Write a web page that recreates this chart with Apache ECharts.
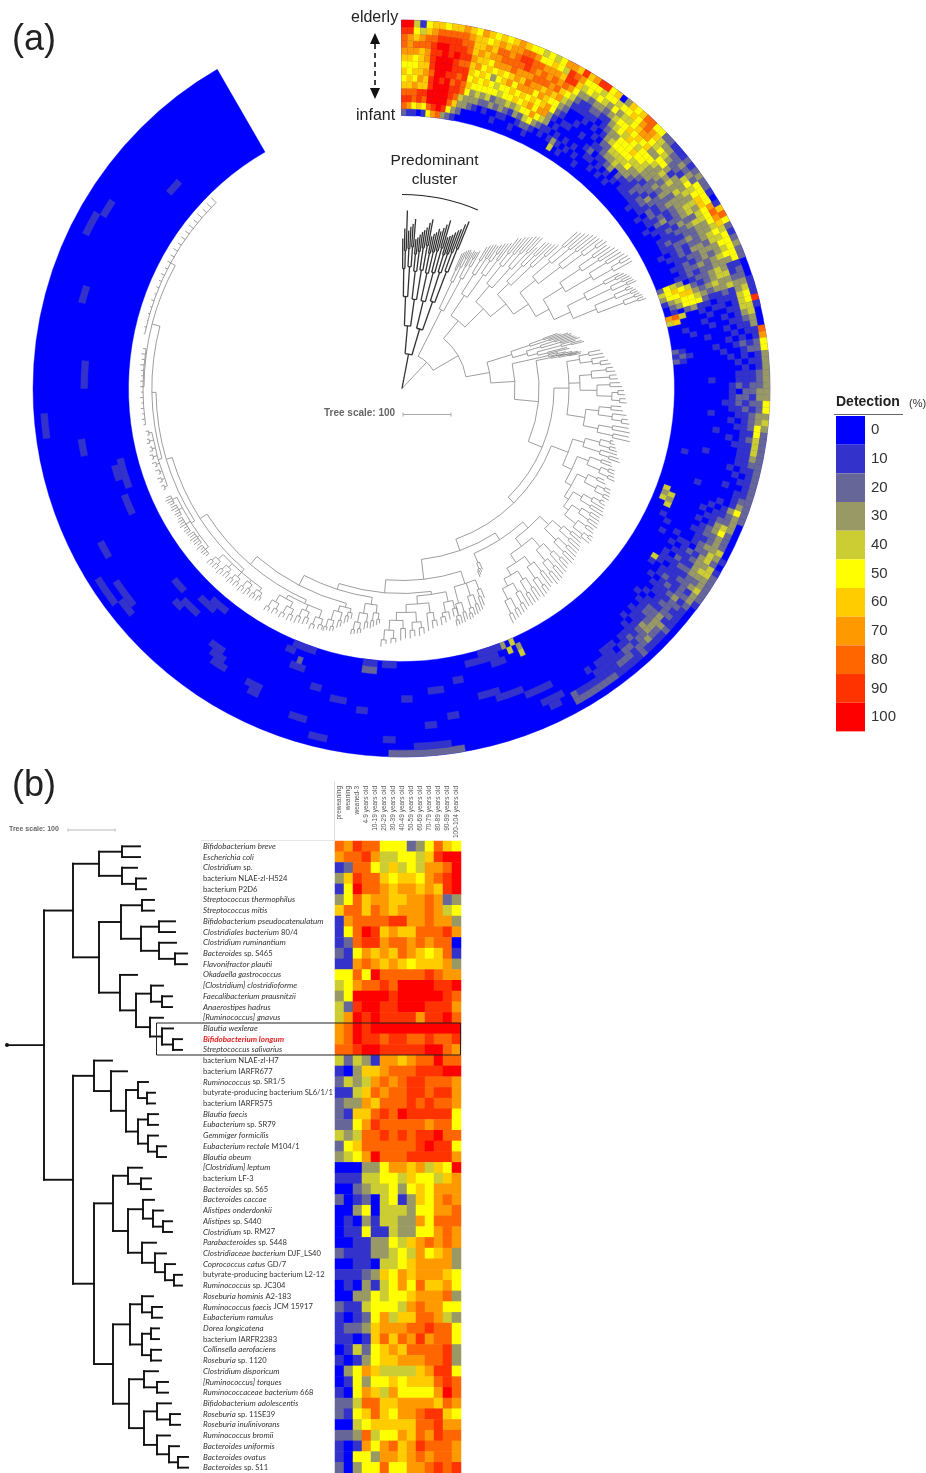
<!DOCTYPE html>
<html><head><meta charset="utf-8">
<style>html,body{margin:0;padding:0;background:#fff}#c{width:926px;height:1473px}</style>
<script src="https://cdn.jsdelivr.net/npm/echarts@6/dist/echarts.min.js"></script>
</head><body><div id="c"></div>
<script>
/* ---------- colour scale ---------- */
var legendValues = [0,10,20,30,40,50,60,70,80,90,100];
var legendColors = ['#0000FF','#3333CC','#666699','#999966','#CCCC33','#FFFF00','#FFCC00','#FF9900','#FF6600','#FF3300','#FF0000'];

/* ---------- panel (b): heatmap ---------- */
var ageGroups = ['preweaning','weaning','weaned-3','4-9 years old','10-19 years old','20-29 years old','30-39 years old','40-49 years old','50-59 years old','60-69 years old','70-79 years old','80-89 years old','90-99 years old','100-104 years old'];
/* "~" separates the italic part of a name from the upright part */
var speciesLabels = ['Bifidobacterium breve','Escherichia coli','Clostridium~sp.','~bacterium NLAE-zl-H524','~bacterium P2D6','Streptococcus thermophilus','Streptococcus mitis','Bifidobacterium pseudocatenulatum','Clostridiales bacterium~80/4','Clostridium ruminantium','Bacteroides~sp. S465','Flavonifractor plautii','Okadaella gastrococcus','[Clostridium] clostridioforme','Faecalibacterium prausnitzii','Anaerostipes hadrus','[Ruminococcus] gnavus','Blautia wexlerae','Bifidobacterium longum','Streptococcus salivarius','~bacterium NLAE-zl-H7','~bacterium IARFR677','Ruminococcus~sp. SR1/5','~butyrate-producing bacterium SL6/1/1','~bacterium IARFR575','Blautia faecis','Eubacterium~sp. SR79','Gemmiger formicilis','Eubacterium rectale~M104/1','Blautia obeum','[Clostridium] leptum','~bacterium LF-3','Bacteroides~sp. S65','Bacteroides caccae','Alistipes onderdonkii','Alistipes~sp. S440','Clostridium~sp. RM27','Parabacteroides~sp. S448','Clostridiaceae bacterium~DJF_LS40','Coprococcus catus~GD/7','~butyrate-producing bacterium L2-12','Ruminococcus~sp. JC304','Roseburia hominis~A2-183','Ruminococcus faecis~JCM 15917','Eubacterium ramulus','Dorea longicatena','~bacterium IARFR2383','Collinsella aerofaciens','Roseburia~sp. 1120','Clostridium disporicum','[Ruminococcus] torques','Ruminococcaceae bacterium~668','Bifidobacterium adolescentis','Roseburia~sp. 11SE39','Roseburia inulinivorans','Ruminococcus bromii','Bacteroides uniformis','Bacteroides ovatus','Bacteroides~sp. S11'];
/* one string per species, one character per age group: detection / 10 (a = 100) */
var heatRows = ['87988555235865','788974455469aa','1288546454778a','3698865665789a','15a8876776769a',
'35867766778723','68868767778745','17888899778773','158a9676688897','12899788787880',
'21576768765681','11787676566673','5585a888889877','4578898aaaa99a','35aaaa9aaaaa98','429aa99aaa9997','47a9a9999799a8','78a9aaaaaaaaaa','78a99899889889','889aa99999aa87',
'42431776788a88','103667888999aa','24347878998887','11468788998997','23376888989887','2166898a999995','22579888887885','43488989899a88','2568888889a995','3457a888999997',
'0003357767465a','11144554655467','00234453565777','20120451365787','00350444355778','01031443375888','01151143355787','00113354678787','21113345475673','00110445677773',
'11123657677765','01031457586675','00335455677783','21145554787755','10125746688743','12236777889885','11016868797885','01425676888893','10135667778893','03576444467995',
'01535565666898','105764755557a8','22488667777687','21568657789965','00456666688977','22384557687988','10175786798887','10553776787887','20355855778989'];

/* ---------- panel (a): circular heatmap ---------- */
/* one string per 1 degree clockwise from the top; first char = infant (inner), last = elderly (outer) */
var ringColumns = [
'2898656567889a','1798665567779a','15887565578654','06996766668741','15896676778865','58aa9989999876','79aaaaaaa9a986','8aaaa9aaaaa985','39aaaa9aa99986','258998999a9986',
'13689989899887','02348899898876','00335656676665','00233565767667','00134556566756','00023565657665','00124553577876','00032545678865','01023456578776','00133557688877',
'00124565778986','00013657679985','01034567878875','00125657787854','00245765788755','01257557687764','00135766778755','00024775687647','00113355768997','00010123457986',
'00101012345679','04310100123456','00100100113557','01010010112459','00100001123549','00010100123455','00100001012356','01001010113540','00012101234353','00010123345456',
'00101224355465','00011345546556','00102345565678','00013445556788','00100345645775','00012354556565','00001334553442','00011234453532','00011123345431','00012213335321',
'00011222343221','00112123231232','00012312343121','00011223333432','00102122243523','00012123334452','00011212333552','00102312344651','00011122343650','00001213224571',
'00011122344586','00012112233578','00011223233465','00101212234542','00011213324451','00001122333552','00011212323453','00001223234552','00011212233352','25430122343110',
'45654212344120','35566323433220','13455432334331','02355521121341','01023110111451','78400101101459','46000010011441','00000100101340','00100010011230','00010000101130',
'00000100010118','00000000101017','21000010012125','12100001001225','21000000101013','00000000010113','00000000001013','00000000011123','00000100011123','00000000121223',
'00000000102233','00000000122133','00000001121225','00000000112125','00000100011233','00000000101234','00000000011253','00000010001152','00000000101242','00000000011142',
'00000000001142','00000100001132','00100000001122','00000000010112','00000000001012','00000000000112','00000000010012','00000100000112','00000000000122','00000000010132',
'04000000101352','03400001011232','04300000112230','00400001013430','00000000123520','00100001122320','00010000112320','00000100123340','00010011022431','00000101213420',
'00000011123341','00000102113442','00000111223332','00004101112232','00001011122342','00000012112132','00000101212231','00000011123120','00000001112210','00000010122110',
'00000101112210','00000011223110','00000001223320','00000011123210','00000001133210','00000010122310','00000001112210','00000000121220','00000000112110','00000000012210',
'00000000101210','00000000111210','00000000111110','00000000011120','00000000011120','00000000001120','00000000010120','00000000000120','00000000000120','00000000000120','00000000000220'];
/* remaining arc is blue; paler patches as [row, fromDeg, toDeg, detection/10] */
var ringPatches = [[0,156,157,4],[1,157,158,4],[0,158,159,3],[1,155,156,3],[2,155,156,4],[1,160,167,1],[0,159,164,1],[2,159,162,1],
[13,170,182,2],[12,172,178,1],[6,162,166,1],[7,158,163,1],[8,153,158,1],[10,152,156,1],[11,153,155,1],[0,185,188,1],[1,185,188,2],[0,181,184,1],
[3,199,202,1],[2,200,201,2],[1,202,204,1],[0,198,203,1],[6,190,193,1],[5,195,197,1],[8,205,208,1],[6,214,217,1],[7,213,216,1],[8,212,215,1],
[4,222,226,1],[5,225,227,1],[1,218,222,1],[2,220,224,1],[3,227,230,1],[11,230,233,1],[10,231,236,1],[12,233,238,1],[3,245,249,1],[2,250,256,1],
[3,252,255,1],[9,240,243,1],[12,262,266,1],[6,270,275,1],[8,285,288,1],[10,300,303,1],[4,310,313,1],[11,296,300,1],[7,258,261,1],[4,172,175,1],
[9,174,176,1],[5,178,180,1],[11,181,183,1],[3,168,170,1],[8,170,172,1],[7,186,188,1],[10,196,199,1],[12,192,195,1],[9,205,207,1]];

/* ---------- trees: [nodePosition, child, child...]; a plain number is a leaf tip;
   "@from:step" places the following leaves at that angle, that spacing ---------- */
var treeDark = [35,"@0.3:0.72",
 [63,
  [92,[120,150,[138,160,178]],[122,[140,158,162],[142,165,170]]],
  [90,[118,[135,150,152],[138,155,158]],[120,[142,160,163],[145,168,172]]]],
 [62,
  [90,[118,[138,155,158],[140,160,164]],[120,[142,162,166],[146,170,175]]],
  [92,[122,[140,158,160],[142,162,165]],[125,[145,168,170],[150,176,180]]]]];
var cladeG1 = [88,"@24:0.62",[118,[130,148,150],[135,152,[145,154,155]]],[125,[138,153,156],[140,[148,155,156],158]]];
var cladeT = [88,"@31:0.75",
 [112,[135,[150,165,168],[155,170,172]],[140,[155,172,[165,175,178]],[160,180,182]]],
 [114,
  [135,[158,[172,190,192],[175,195,197]],[162,[180,200,203],[185,205,206]]],
  [134,
   [150,[172,195,[188,205,207]],[178,208,[195,210,212]]],
   [152,
    [172,[195,[215,235,237],[218,240,242]],[200,[222,245,247],[225,248,[240,250,252]]]],
    [167,
     [190,[215,[232,250,252],[235,255,257]],[220,[240,258,260],[242,[252,262,263],263]]],
     [185,"@62:0.55",
      [205,[228,246,[240,250,252]],[232,[245,254,255],[248,256,258]]],
      [210,[232,[245,250,252],[248,254,255]],[238,[250,256,258],[252,258,260]]]]]]]]];
var cladeX = [115,"@70.5:0.5",[135,[150,165,168],[155,175,178]],[130,[145,[160,178,180],[165,182,185]],[140,[165,180,[175,186,188]],[150,170,172]]]];
var chainA = [140,"@77:0.35",[150,160,[158,168,[165,174,[172,180,183]]]]];
var cladeK84 = [167,"@79:1.05",
 [180,[190,202,204],[192,205,[200,208,210]]],
 [178,[190,[205,212,214],[208,215,216]],[195,[208,218,220],[210,[216,222,223],[218,224,225]]]],
 [185,[198,[210,220,222],[212,226,[222,228,230]]],[200,[214,230,232],[216,232,234]]]];
var cladeK120 = [178,"@104:0.8",
 [190,[205,[215,218,220],[216,222,224]],[208,225,[218,228,230]]],
 [188,
  [200,[212,222,224],[214,[222,228,229],[224,230,232]]],
  [195,
   [205,[215,222,225],[218,[226,232,233],[228,234,235]]],
   [200,
    [210,[220,[228,232,234],235],[222,236,238]],
    [206,[216,[226,236,238],[228,238,240]],[220,[230,238,240],[232,[238,242,243],243]]]]]]];
var cladeK150 = [188,"@130:0.82",
 [200,[212,[222,234,236],[225,238,240]],[216,[228,240,242],[230,243,244]]],
 [198,
  [210,[222,[232,242,244],246],[224,[234,246,248],[236,248,250]]],
  [208,
   [218,[230,246,248],[232,[242,250,251],252]],
   [216,
    [226,[238,250,252],[240,252,253]],
    [224,[234,252,[246,254,255]],[236,[248,256,257],[250,258,260]]]]]]];
var cladeK158 = [190,"@156:0.5",198,[196,200,[198,202,204]]];
var cladeK164 = [205,"@158.5:0.7",[215,225,[222,232,235]],[218,[228,236,238],[230,238,[235,240,241]]],[222,[232,240,242],[234,242,[238,243,244]]]];
var cladeK178 = [208,"@166:1.1",
 [218,[226,232,234],[228,236,[232,238,240]]],
 [216,[226,[234,240,242],244],
  [224,[234,[240,246,248],[242,248,250]],
   [232,[240,250,252],[242,[250,254,255],[252,256,259]]]]]];
var cladeK190 = [218,"@185.5:0.7",[226,[232,236,238],[234,240,242]],[228,[236,242,244],[238,[244,248,249],[246,250,251]]]];
var cladeK199 = [226,"@192.5:0.7",[230,236,[234,240,242]],[232,[240,246,248],[242,[248,252,253],[250,253,255]]]];
var cladeK212 = [236,"@198.5:0.9",[244,[250,254,255],[252,256,258]],[242,[248,254,256],[250,256,258]],[240,[246,[252,258,259],[254,258,260]],[248,[254,258,260],[256,260,261]]]];
var cladeK226 = [244,"@214:0.75",[248,[252,256,258],[253,258,259]],[247,[252,258,260],[254,259,261]],[250,[254,258,260],[255,260,261]],[249,[253,259,260],[255,260,262]],[251,[255,260,261],[256,261,262]]];
var cladeK240 = [250,"@229.5:0.6",[254,258,259,260,258,261],[253,258,260,259,261,259,260],[255,260,261,259,262,260,261,259],[254,259,260,258,261,260],[255,260,261,262,260]];
var cladeK300 = [250,"@247:0.9",
 [254,[257,259,260],[257,260,261],[256,258,260],[257,259,261],[258,260,261],[257,260,259],[258,261,260],[257,259,260]],
 [258,"@262:1.2",
  [259,261,262,261,262,261,262,261,262,262,261,262,263,262,263,262],
  [263,"@282:1.5",264,265,264,265,265,266,265,266,266,267,266,267,267,268,267,268,268,269,268,269,268,269,270]]];
var treeGray = [36, cladeG1,
 [65, cladeT,
  [89, cladeX,
   [113, chainA,
    [137,
     [140,"@78:0.3",[152,165,[160,172,[170,178,182]]]],
     [152, cladeK84,
      [160, cladeK120,
       [172, [180, cladeK150, cladeK158],
        [192, cladeK164,
         [205, cladeK178,
          [211, cladeK190,
           [222, cladeK199,
            [232, cladeK212,
             [240, cladeK226,
              [246, cladeK240, cladeK300]]]]]]]]]]]]]]];
var treeB = [44,
 [73,
  [99,[122,140,140],[122,137,[136,146,146]]],
  [99,
   [121,[142,154,154],[141,[159,175,175],[159,176,[175,187,187]]]],
   [120,137,[136,[151,163,[162,172,172]],[150,163,[162,173,[173,182,182]]]]]]],
 [73,
  [94,112,[111,127,[126,[138,148,[147,155,155]],[138,[148,158,158],[148,158,[157,166,166]]]]]],
  [94,
   [113,
    [128,142,[141,151,151]],
    [128,[143,154,[153,163,[163,172,172]]],[142,156,[155,166,[165,175,[174,182,182]]]]]],
   [113,
    [130,[142,153,[152,162,162]],[142,[151,159,159],[151,161,161]]],
    [129,[144,158,[157,168,168]],[144,[157,171,[170,180,180]],[157,170,[169,179,[178,188,188]]]]]]]]];
var treeBRootStart = 7;
var predominantArc = [[194,0,194,23]];

/* ---------- build series data ---------- */
function level(ch){return parseInt(ch,16)*10;}
var heatData=[];
heatRows.forEach(function(s,y){for(var x=0;x<s.length;x++)heatData.push([x,y,level(s[x])]);});
/* [rowFrom, angleFrom, value, angleTo, rowTo] */
var ringData=[[0,0,0,330,14]];
ringColumns.forEach(function(s,a){for(var r=0;r<s.length;r++){if(s[r]!=='0')ringData.push([r,a,level(s[r]),a+1,r+1]);}});
ringPatches.forEach(function(p){ringData.push([p[0],p[1],p[3]*10,p[2],p[0]+1]);});

function layoutPolar(tree){
  var segs=[],cur=0,step=1;
  function walk(n,pr){
    if(typeof n==='number'){var t=cur;cur+=step;segs.push([pr,t,n,t]);return t;}
    var r=n[0],as=[];
    n.slice(1).forEach(function(c){
      if(typeof c==='string'){var q=c.slice(1).split(':');cur=+q[0];step=+q[1];return;}
      as.push(walk(c,r));
    });
    var a=(as[0]+as[as.length-1])/2;
    segs.push([r,as[0],r,as[as.length-1]]);
    segs.push([pr,a,r,a]);
    return a;
  }
  walk(tree,0);
  return segs;
}
function layoutRect(tree,rootStart){
  var segs=[],leaf=0;
  function walk(n,px){
    if(typeof n==='number'){var y=leaf+0.5;leaf++;segs.push([px,y,n,y]);return y;}
    var x=n[0],ys=n.slice(1).map(function(c){return walk(c,x);});
    var m=(ys[0]+ys[ys.length-1])/2;
    segs.push([x,ys[0],x,ys[ys.length-1]]);
    segs.push([px,m,x,m]);
    return m;
  }
  walk(tree,rootStart);
  return segs;
}

/* ---------- renderers ---------- */
function ringItem(params,api){
  var cs=params.coordSys,cx=cs.cx,cy=cs.cy;
  var a0=api.value(1),a1=api.value(3);
  var p0=api.coord([api.value(0),a0]),p1=api.coord([api.value(4),a1]);
  var col=api.visual('color');
  return {type:'sector',silent:true,shape:{cx:cx,cy:cy,
    r0:Math.hypot(p0[0]-cx,p0[1]-cy),r:Math.hypot(p1[0]-cx,p1[1]-cy),
    startAngle:Math.atan2(p0[1]-cy,p0[0]-cx),endAngle:Math.atan2(p1[1]-cy,p1[0]-cx),clockwise:true},
    style:{fill:col,stroke:col,lineWidth:0.4}};
}
function treeItem(color,width){return function(params,api){
  var cs=params.coordSys,cx=cs.cx,cy=cs.cy;
  var p0=api.coord([api.value(0),api.value(1)]),p1=api.coord([api.value(2),api.value(3)]);
  var st={stroke:color,lineWidth:width,fill:null};
  if(api.value(1)===api.value(3))
    return {type:'line',silent:true,shape:{x1:p0[0],y1:p0[1],x2:p1[0],y2:p1[1]},style:st};
  return {type:'arc',silent:true,shape:{cx:cx,cy:cy,r:Math.hypot(p0[0]-cx,p0[1]-cy),
    startAngle:Math.atan2(p0[1]-cy,p0[0]-cx),endAngle:Math.atan2(p1[1]-cy,p1[0]-cx),clockwise:true},style:st};
};}
function rectItem(params,api){
  var p0=api.coord([api.value(0),api.value(1)]),p1=api.coord([api.value(2),api.value(3)]);
  return {type:'line',silent:true,shape:{x1:p0[0],y1:p0[1],x2:p1[0],y2:p1[1]},
    style:{stroke:'#111',lineWidth:1.9,lineCap:'square'}};
}
var FONT='"Liberation Sans",Arial,sans-serif';
function ageLabelItem(params,api){
  var i=api.value(0),p=api.coord([i,0]);
  return {type:'text',silent:true,x:p[0],y:params.coordSys.y-55,rotation:Math.PI/2,
    style:{text:ageGroups[i],font:'6.5px '+FONT,fill:'#555',textAlign:'right',textVerticalAlign:'middle'}};
}
var polarEncode={radius:0,angle:1};
var hidden={show:false,axisLine:{show:false},axisTick:{show:false},axisLabel:{show:false},splitLine:{show:false}};
function hid(o){return Object.assign({},hidden,o);}
function txt(x,y,t,font,fill,align){return {type:'text',x:x,y:y,z:100,silent:true,style:{text:t,font:font,fill:fill||'#222',textAlign:align||'left',textVerticalAlign:'middle'}};}
function ln(x1,y1,x2,y2,c,w,dash){var st={stroke:c,lineWidth:w||1};if(dash)st.lineDash=dash;return {type:'line',z:100,silent:true,shape:{x1:x1,y1:y1,x2:x2,y2:y2},style:st};}
function poly(pts,c){return {type:'polygon',z:100,silent:true,shape:{points:pts},style:{fill:c}};}

var option={
  animation:false,backgroundColor:'#fff',
  polar:[{center:[401.5,388.5],radius:[273,368.5]},{center:[402,388.5],radius:[0,273]}],
  angleAxis:[hid({polarIndex:0,type:'value',min:0,max:360,startAngle:90,clockwise:true}),hid({polarIndex:1,type:'value',min:0,max:360,startAngle:90,clockwise:true})],
  radiusAxis:[hid({polarIndex:0,type:'value',min:0,max:14}),hid({polarIndex:1,type:'value',min:0,max:273})],
  grid:[{left:335,top:841,width:126,height:632.5,containLabel:false},{left:0,top:841,width:335,height:632.5}],
  xAxis:[
   {type:'category',gridIndex:0,position:'top',data:ageGroups,axisLine:{show:false},axisTick:{show:false},splitLine:{show:false},axisLabel:{show:false}},
   hid({type:'value',gridIndex:1,min:0,max:335})],
  yAxis:[
   {type:'category',gridIndex:0,inverse:true,data:speciesLabels.map(function(s){return s.replace('~',' ').trim();}),axisLine:{show:false},axisTick:{show:false},splitLine:{show:false},
    axisLabel:{interval:0,align:'left',margin:132,fontSize:8,fontFamily:'Lato',color:'#333',
     formatter:function(v,i){
       var s=speciesLabels[i].split('~'),out='';
       if(v==='Bifidobacterium longum')return '{r|'+v+'}';
       if(s[0])out+='{i|'+s[0]+'}';
       if(s.length>1)out+=(s[0]?' ':'')+'{n|'+s[1]+'}';
       return out;
     },
     rich:{i:{fontStyle:'italic',fontSize:8,fontFamily:'Lato',color:'#333'},n:{fontSize:7.6,fontFamily:'Lato',color:'#333'},r:{fontStyle:'italic',fontWeight:'bold',fontSize:8,fontFamily:'Lato',color:'#e02020'}}}},
   hid({type:'value',gridIndex:1,min:0,max:59,inverse:true})],
  visualMap:{type:'piecewise',dimension:2,seriesIndex:[0,4],orient:'vertical',align:'left',left:836,top:416,padding:0,
    itemWidth:29,itemHeight:28.67,itemGap:0,itemSymbol:'rect',textGap:6,selectedMode:false,hoverLink:false,inverse:true,
    textStyle:{fontSize:15,color:'#333',fontFamily:FONT},
    pieces:legendValues.map(function(v,i){return {value:v,label:String(v),color:legendColors[i]};})},
  series:[
   {type:'custom',coordinateSystem:'polar',polarIndex:0,data:ringData,encode:polarEncode,renderItem:ringItem,silent:true,progressive:0},
   {type:'custom',coordinateSystem:'polar',polarIndex:1,data:layoutPolar(treeGray),encode:polarEncode,renderItem:treeItem('#858585',0.8),silent:true,progressive:0},
   {type:'custom',coordinateSystem:'polar',polarIndex:1,data:layoutPolar(treeDark),encode:polarEncode,renderItem:treeItem('#333',1.3),silent:true,progressive:0},
   {type:'custom',coordinateSystem:'polar',polarIndex:1,data:predominantArc,encode:polarEncode,renderItem:treeItem('#222',1.1),silent:true,progressive:0},
   {type:'heatmap',xAxisIndex:0,yAxisIndex:0,data:heatData,silent:true,progressive:0,emphasis:{disabled:true}},
   {type:'custom',coordinateSystem:'cartesian2d',xAxisIndex:1,yAxisIndex:1,data:layoutRect(treeB,treeBRootStart),encode:{x:[0,2],y:[1,3]},renderItem:rectItem,silent:true,progressive:0},
   {type:'custom',coordinateSystem:'cartesian2d',xAxisIndex:0,yAxisIndex:0,data:ageGroups.map(function(g,i){return [i,0];}),encode:{x:0,y:1},renderItem:ageLabelItem,silent:true,progressive:0,clip:false}
  ],
  graphic:{elements:[
    txt(12,40,'(a)','36px '+FONT),
    txt(12,786,'(b)','36px '+FONT),
    txt(351,18,'elderly','16px '+FONT),
    txt(356,116,'infant','16px '+FONT),
    ln(375,44,375,90,'#111',1.6,[5,4]),
    poly([[375,33],[370,44],[380,44]],'#111'),
    poly([[375,99],[370,88],[380,88]],'#111'),
    txt(434.5,161,'Predominant','15.5px '+FONT,'#222','center'),
    txt(434.5,180,'cluster','15.5px '+FONT,'#222','center'),
    txt(324,413,'Tree scale: 100','bold 10px '+FONT,'#666'),
    ln(403,414.5,451,414.5,'#aaa',1),ln(403,412.5,403,416.5,'#aaa',1),ln(451,412.5,451,416.5,'#aaa',1),
    txt(836,402,'Detection','bold 14px '+FONT,'#222'),
    txt(909,403.5,'(%)','11px '+FONT,'#333'),
    ln(834,414.5,903,414.5,'#666',1),
    txt(9,829,'Tree scale: 100','bold 7px '+FONT,'#666'),
    ln(68,830,115,830,'#bbb',1),ln(68,828.5,68,831.5,'#bbb',1),ln(115,828.5,115,831.5,'#bbb',1),
    ln(334.5,782,334.5,840,'#ddd',1),
    ln(201,840.5,335,840.5,'#e4e4e4',1),
    ln(201,840.5,201,1473,'#f0f0f0',1),
    {type:'circle',z:100,silent:true,shape:{cx:7,cy:1045,r:2},style:{fill:'#111'}},
    {type:'rect',z:100,silent:true,shape:{x:156.5,y:1023,width:304,height:32},style:{fill:null,stroke:'#222',lineWidth:1}}
  ]}
};
var chart=echarts.init(document.getElementById('c'),null,{renderer:'canvas',width:926,height:1473});
chart.setOption(option);
</script></body></html>
